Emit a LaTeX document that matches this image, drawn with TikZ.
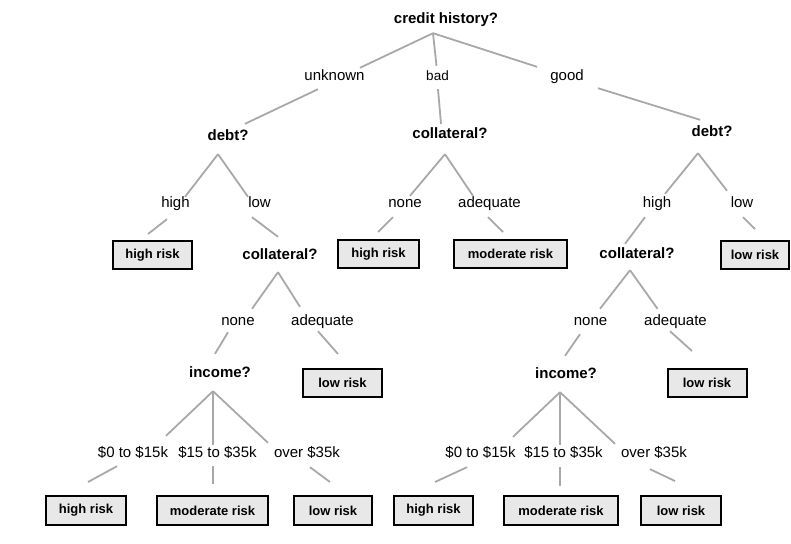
\documentclass[tikz,border=0pt]{standalone}
\usepackage{fontspec}
\setmainfont{Liberation Sans}
\definecolor{linegray}{HTML}{A8A8A8}
\definecolor{boxgray}{HTML}{E8E8E8}
\tikzset{
  q/.style={font=\fontsize{15}{18}\selectfont\bfseries, inner sep=2pt, text height=11pt, text depth=3pt},
  lab/.style={font=\fontsize{15}{18}\selectfont, inner sep=2pt, text height=11pt, text depth=3pt},
  leaf/.style={draw=black, line width=2pt, fill=boxgray, font=\fontsize{13}{16}\selectfont\bfseries, minimum height=28pt, inner sep=0pt},
  edge/.style={draw=linegray, line width=1.8pt}
}
\begin{document}
\begin{tikzpicture}[x=1pt,y=-1pt]
\useasboundingbox (0,0) rectangle (791,543);
% questions
\node[q] (root) at (446,20) {credit history?};
\node[q] (dL) at (228,136) {debt?};
\node[q] (cM) at (450,134) {collateral?};
\node[q] (dR) at (712,132) {debt?};
\node[q] (cL) at (280,255) {collateral?};
\node[q] (cR) at (637,254) {collateral?};
\node[q] (iL) at (220,373) {income?};
\node[q] (iR) at (566,374) {income?};
% labels
\node[lab] (lu) at (334.5,76) {unknown};
\node[lab, font=\fontsize{13.5}{16}\selectfont] (lb) at (437.5,76) {bad};
\node[lab] (lg) at (567,76) {good};
\node[lab] (lL1) at (175.5,203) {high};
\node[lab] (lL2) at (259.5,203) {low};
\node[lab] (lM1) at (405,203) {none};
\node[lab] (lM2) at (489.5,203) {adequate};
\node[lab] (lR1) at (657,203) {high};
\node[lab] (lR2) at (742,203) {low};
\node[lab] (lCL1) at (238,321) {none};
\node[lab] (lCL2) at (322.5,321) {adequate};
\node[lab] (lCR1) at (590.5,321) {none};
\node[lab] (lCR2) at (675.5,321) {adequate};
\node[lab] (lIL1) at (133,453) {\$0 to \$15k};
\node[lab] (lIL2) at (217.5,453) {\$15 to \$35k};
\node[lab] (lIL3) at (307,453) {over \$35k};
\node[lab] (lIR1) at (480.5,453) {\$0 to \$15k};
\node[lab] (lIR2) at (563.5,453) {\$15 to \$35k};
\node[lab] (lIR3) at (654,453) {over \$35k};
% leaves
\node[leaf, minimum width=79pt] (bL1) at (152.5,255) {high risk};
\node[leaf, minimum width=81pt] (bM1) at (378.5,254) {high risk};
\node[leaf, minimum width=113pt] (bM2) at (510.5,254) {moderate risk};
\node[leaf, minimum width=68pt] (bR) at (755,254.5) {low risk};
\node[leaf, minimum width=79pt] (bCL) at (342.5,383) {low risk};
\node[leaf, minimum width=79pt] (bCR) at (707,383) {low risk};
\node[leaf, minimum width=80pt, minimum height=29pt] (bIL1) at (86,510.5) {high risk};
\node[leaf, minimum width=111pt, minimum height=29pt] (bIL2) at (212.5,510.5) {moderate risk};
\node[leaf, minimum width=78pt, minimum height=29pt] (bIL3) at (333,510.5) {low risk};
\node[leaf, minimum width=79pt, minimum height=29pt] (bIR1) at (433.5,510.5) {high risk};
\node[leaf, minimum width=114pt, minimum height=29pt] (bIR2) at (561,510.5) {moderate risk};
\node[leaf, minimum width=80pt, minimum height=29pt] (bIR3) at (681,510.5) {low risk};
% branching points below the questions
\coordinate (rootA) at ([shift={(-13,4)}]root.south);
\coordinate (dLA) at ([shift={(-10,9)}]dL.south);
\coordinate (cMA) at ([shift={(-5,11)}]cM.south);
\coordinate (dRA) at ([shift={(-14,12)}]dR.south);
\coordinate (cLA) at ([shift={(-2,8)}]cL.south);
\coordinate (cRA) at ([shift={(-7,7)}]cR.south);
\coordinate (iLA) at ([shift={(-7,9)}]iL.south);
\coordinate (iRA) at ([shift={(-6,9)}]iR.south);
% root
\draw[edge] (rootA) -- ([shift={(25.5,1)}]lu.north);
\draw[edge] (rootA) -- ([shift={(-1,-1)}]lb.north);
\draw[edge] (rootA) -- ([shift={(-30,0)}]lg.north);
\draw[edge] ([shift={(-16.5,4)}]lu.south) -- ([shift={(17,-3)}]dL.north);
\draw[edge] ([shift={(0.5,4)}]lb.south) -- ([shift={(-9,-1)}]cM.north);
\draw[edge] ([shift={(31,3)}]lg.south) -- ([shift={(-12,-3)}]dR.north);
% left debt
\draw[edge] (dLA) -- ([shift={(9.5,3)}]lL1.north);
\draw[edge] (dLA) -- ([shift={(-11.5,3)}]lL2.north);
\draw[edge] ([shift={(-8.5,7)}]lL1.south) -- ([shift={(-4.5,-6)}]bL1.north);
\draw[edge] ([shift={(-7.5,5)}]lL2.south) -- ([shift={(-2,-9)}]cL.north);
% mid collateral
\draw[edge] (cMA) -- ([shift={(5,2)}]lM1.north);
\draw[edge] (cMA) -- ([shift={(-16.5,2)}]lM2.north);
\draw[edge] ([shift={(-12,5)}]lM1.south) -- ([shift={(-0.5,-7)}]bM1.north);
\draw[edge] ([shift={(-1.5,5)}]lM2.south) -- ([shift={(-7.5,-7)}]bM2.north);
% right debt
\draw[edge] (dRA) -- ([shift={(8,0)}]lR1.north);
\draw[edge] (dRA) -- ([shift={(-15,-3)}]lR2.north);
\draw[edge] ([shift={(-12,5)}]lR1.south) -- ([shift={(-12,-1)}]cR.north);
\draw[edge] ([shift={(1,5)}]lR2.south) -- ([shift={(0,-10.5)}]bR.north);
% left collateral
\draw[edge] (cLA) -- ([shift={(14,-3)}]lCL1.north);
\draw[edge] (cLA) -- ([shift={(-22.5,-5)}]lCL2.north);
\draw[edge] ([shift={(-10,2)}]lCL1.south) -- ([shift={(-5,-10)}]iL.north);
\draw[edge] ([shift={(-4.5,1)}]lCL2.south) -- ([shift={(-4.5,-14)}]bCL.north);
% right collateral
\draw[edge] (cRA) -- ([shift={(9.5,-3)}]lCR1.north);
\draw[edge] (cRA) -- ([shift={(-18,-3)}]lCR2.north);
\draw[edge] ([shift={(-10.5,4)}]lCR1.south) -- ([shift={(-1,-9)}]iR.north);
\draw[edge] ([shift={(-5.5,1)}]lCR2.south) -- ([shift={(-15,-17)}]bCR.north);
% left income
\draw[edge] (iLA) -- ([shift={(33,-8)}]lIL1.north);
\draw[edge] (iLA) -- ([shift={(0,1)}]iLA |- lIL2.north);
\draw[edge] (iLA) -- ([shift={(-39,-1)}]lIL3.north);
\draw[edge] ([shift={(-16,4)}]lIL1.south) -- ([shift={(2,-13)}]bIL1.north);
\draw[edge] ([shift={(0,4)}]lIL2.south -| iLA) -- ([shift={(0,-11)}]bIL2.north -| iLA);
\draw[edge] ([shift={(3,5)}]lIL3.south) -- ([shift={(-3,-13)}]bIL3.north);
% right income
\draw[edge] (iRA) -- ([shift={(32.5,-7)}]lIR1.north);
\draw[edge] (iRA) -- ([shift={(0,1)}]iRA |- lIR2.north);
\draw[edge] (iRA) -- ([shift={(-39,0)}]lIR3.north);
\draw[edge] ([shift={(-13.5,5)}]lIR1.south) -- ([shift={(1.5,-13)}]bIR1.north);
\draw[edge] ([shift={(0,5)}]lIR2.south -| iRA) -- ([shift={(0,-9)}]bIR2.north -| iRA);
\draw[edge] ([shift={(-4,7)}]lIR3.south) -- ([shift={(-6,-14)}]bIR3.north);
\end{tikzpicture}
\end{document}
